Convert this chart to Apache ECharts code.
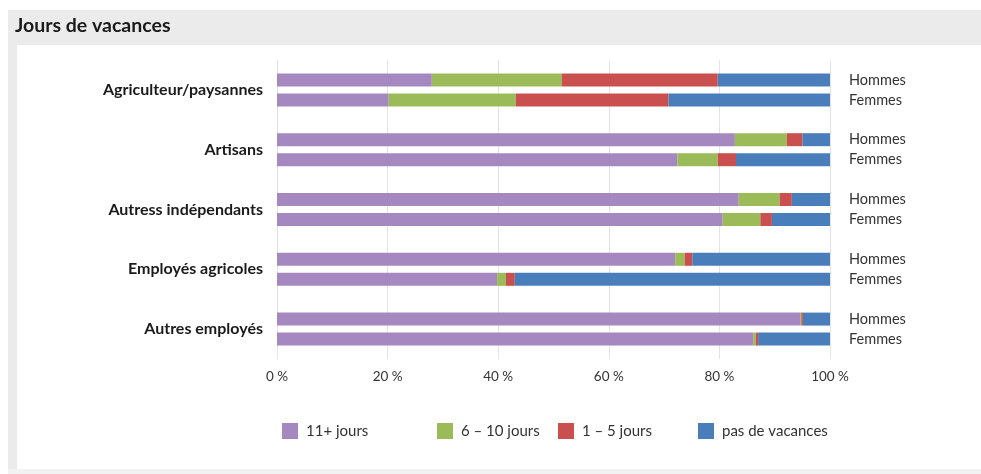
<!DOCTYPE html>
<html><head><meta charset="utf-8">
<script src="https://cdn.jsdelivr.net/npm/echarts@6/dist/echarts.min.js"></script>
<style>html,body{margin:0;padding:0;background:#fff}#c{width:981px;height:474px}</style>
</head><body><div id="c"></div>
<script>
const categories = ['Agriculteur/paysannes','Artisans','Autress indépendants','Employés agricoles','Autres employés'];
const seriesNames = ['11+ jours','6 – 10 jours','1 – 5 jours','pas de vacances'];
const genders = ['Hommes','Femmes'];
// values in % per category, order as categories
const hommes11 = [28.0, 82.8, 83.5, 72.0, 94.6];
const hommes6  = [23.5, 9.4, 7.4, 1.7, 0.2];
const hommes1  = [28.2, 2.8, 2.2, 1.4, 0.3];
const hommesPas= [20.3, 5.0, 6.9, 24.9, 4.9];
const femmes11 = [20.2, 72.4, 80.6, 39.8, 86.1];
const femmes6  = [23.0, 7.3, 6.8, 1.6, 0.5];
const femmes1  = [27.6, 3.3, 2.1, 1.6, 0.4];
const femmesPas= [29.2, 17.0, 10.5, 57.0, 13.0];
const xTicks = [0,20,40,60,80,100];

const colors = ['#a688c0','#9bbb59','#c9504f','#4a7ebb'];
const font = 'Lato';
const hData = [hommes11,hommes6,hommes1,hommesPas];
const fData = [femmes11,femmes6,femmes1,femmesPas];
const series = [];
for (let i=0;i<4;i++){
  [['H',hData[i],genders[0]],['F',fData[i],genders[1]]].forEach(([st,d,g])=>{
    series.push({
      type:'bar', name:seriesNames[i], stack:st, data:d,
      barWidth:13, barGap:'54%',
      itemStyle:{color:colors[i]},
      emphasis:{disabled:true},
      label: i===3 ? {show:true, position:'right', distance:19, formatter:g,
        fontFamily:font, fontSize:14.5, color:'#333'} : {show:false}
    });
  });
}
const legendLefts = [277,432,553,693];
const legends = seriesNames.map((n,i)=>({
  data:[n], left:legendLefts[i], top:418, itemWidth:16, itemHeight:16, itemGap:12,
  icon:'rect', selectedMode:false,
  textStyle:{fontFamily:font, fontSize:15, color:'#333', padding:[0,0,0,3]}
}));
const chart = echarts.init(document.getElementById('c'),null,{renderer:'canvas'});
chart.setOption({
  animation:false,
  color:colors,
  graphic:[
    {type:'rect', shape:{x:8,y:10,width:973,height:35}, style:{fill:'#ebebeb'}, z:-10},
    {type:'rect', shape:{x:8,y:45,width:9,height:425}, style:{fill:'#ebebeb'}, z:-10},
    {type:'rect', shape:{x:8,y:469,width:973,height:5}, style:{fill:'#f2f2f2'}, z:-10},
    {type:'text', left:15, top:16, style:{text:'Jours de vacances', font:'bold 19.5px Lato', fill:'#1a1a1a'}}
  ],
  grid:{left:277, right:151, top:60, bottom:115},
  xAxis:{type:'value', min:0, max:100, interval:20,
    axisLine:{show:false}, axisTick:{show:false},
    splitLine:{lineStyle:{color:'#e3e3e3'}},
    axisLabel:{formatter:v=>v+'\u202F%', fontFamily:font, fontSize:13.5, color:'#333', margin:11}},
  yAxis:{type:'category', data:categories, inverse:true,
    axisLine:{show:false}, axisTick:{show:false},
    axisLabel:{fontFamily:font, fontWeight:'bold', fontSize:16, color:'#1a1a1a', margin:14}},
  legend:legends,
  series:series
});
</script></body></html>
